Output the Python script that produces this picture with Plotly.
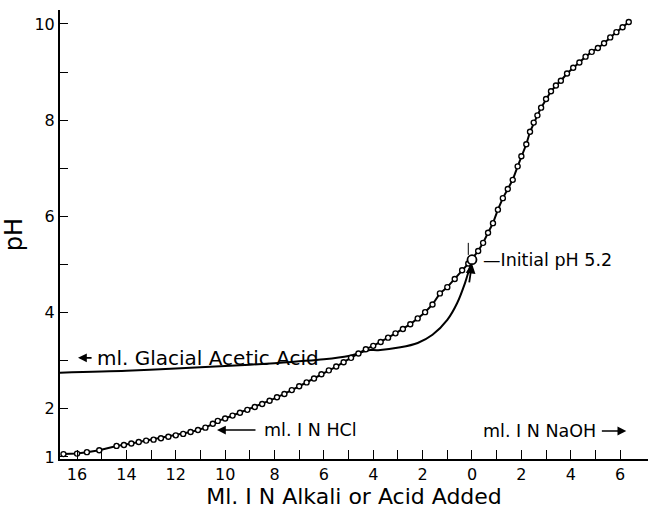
import plotly.graph_objects as go

# Titration curve: ml of 1 N HCl (negative, left) / 1 N NaOH (positive, right) vs pH
titr_ml = [-16.55, -16.0, -15.6, -15.1, -14.4, -14.1, -13.8, -13.5, -13.2, -12.9,
           -12.6, -12.3, -12.0, -11.7, -11.4, -11.1, -10.8, -10.5, -10.3, -10.0,
           -9.7, -9.4, -9.1, -8.8, -8.5, -8.2, -7.9, -7.6, -7.3, -7.0,
           -6.7, -6.4, -6.1, -5.8, -5.5, -5.2, -4.9, -4.6, -4.3, -4.0,
           -3.7, -3.4, -3.1, -2.8, -2.5, -2.2, -1.9, -1.6, -1.3, -1.0,
           -0.7, -0.4, -0.15,
           0.25, 0.45, 0.65, 0.85, 1.05, 1.25, 1.45, 1.65, 1.85, 2.0,
           2.2, 2.35, 2.5, 2.65, 2.8, 3.0, 3.2, 3.4, 3.6, 3.85,
           4.1, 4.35, 4.6, 4.85, 5.1, 5.35, 5.6, 5.85, 6.1, 6.35]
titr_ph = [1.06, 1.07, 1.10, 1.14, 1.23, 1.25, 1.28, 1.31, 1.34, 1.36,
           1.39, 1.42, 1.45, 1.48, 1.52, 1.56, 1.61, 1.69, 1.75, 1.80,
           1.86, 1.92, 1.98, 2.04, 2.10, 2.17, 2.24, 2.31, 2.39, 2.47,
           2.55, 2.63, 2.72, 2.80, 2.88, 2.97, 3.06, 3.15, 3.24, 3.31,
           3.39, 3.48, 3.57, 3.66, 3.76, 3.88, 4.01, 4.17, 4.40, 4.53,
           4.70, 4.88, 5.02,
           5.28, 5.45, 5.66, 5.86, 6.14, 6.38, 6.57, 6.76, 7.04, 7.25,
           7.50, 7.76, 7.95, 8.10, 8.26, 8.44, 8.60, 8.72, 8.82, 8.97,
           9.09, 9.20, 9.32, 9.42, 9.50, 9.60, 9.72, 9.83, 9.93, 10.04]

# Glacial acetic acid curve (ml, drawn leftwards as negative)
acetic_ml = [-16.69, -14.0, -12.0, -10.0, -8.0, -6.0, -5.0, -4.5, -4.2, -3.8,
             -2.9, -2.2, -1.6, -1.0, -0.6, -0.28, -0.08, 0.0]
acetic_ph = [2.75, 2.79, 2.84, 2.89, 2.95, 3.03, 3.10, 3.17, 3.22, 3.22,
             3.28, 3.37, 3.54, 3.85, 4.20, 4.62, 4.95, 5.06]

initial_ml = [0.0]
initial_ph = [5.1]

x_tickvals = list(range(-16, 7))
x_ticktext = [str(abs(v)) if v % 2 == 0 else "" for v in x_tickvals]
y_tickvals = list(range(1, 11))
y_ticktext = ["1", "2", "", "4", "", "6", "", "8", "", "10"]

FONT = "DejaVu Sans"
TXT = dict(family=FONT, size=17.5, color="black")


def arrow(x_head, y_head, x_tail, y_tail, width=1.8):
    return dict(x=x_head, y=y_head, ax=x_tail, ay=y_tail, axref="x", ayref="y",
                xref="x", yref="y", showarrow=True, arrowhead=2, arrowsize=1.1,
                arrowwidth=width, arrowcolor="black", text="")


fig = go.Figure()
fig.add_trace(go.Scatter(x=acetic_ml, y=acetic_ph, mode="lines",
                         line=dict(color="black", width=2, shape="spline", smoothing=0.8),
                         hoverinfo="skip"))
fig.add_trace(go.Scatter(x=titr_ml, y=titr_ph, mode="lines+markers",
                         line=dict(color="black", width=2),
                         marker=dict(symbol="circle", size=5, color="white",
                                     line=dict(color="black", width=1.4)),
                         hoverinfo="skip"))
fig.add_trace(go.Scatter(x=initial_ml, y=initial_ph, mode="markers",
                         marker=dict(symbol="circle", size=9, color="white",
                                     line=dict(color="black", width=1.8)),
                         hoverinfo="skip"))

annots = [
    arrow(0.0, 5.02, -0.12, 4.6),
    dict(x=0.36, y=5.1, xref="x", yref="y", text="—Initial pH 5.2", showarrow=False,
         xanchor="left", yanchor="middle", font=TXT),
    arrow(-15.96, 3.06, -15.35, 3.06, 1.6),
    dict(x=-15.27, y=3.06, xref="x", yref="y", text="ml. Glacial Acetic Acid", showarrow=False,
         xanchor="left", yanchor="middle", font=dict(family=FONT, size=20, color="black")),
    arrow(-10.33, 1.56, -8.71, 1.56, 1.6),
    dict(x=-8.5, y=1.56, xref="x", yref="y", text="ml. I N HCl", showarrow=False,
         xanchor="left", yanchor="middle", font=TXT),
    dict(x=0.36, y=1.54, xref="x", yref="y", text="ml. I N NaOH", showarrow=False,
         xanchor="left", yanchor="middle", font=TXT),
    arrow(6.25, 1.54, 5.2, 1.54, 1.6),
]

fig.update_layout(
    width=649, height=510,
    margin=dict(l=60, r=1, t=10, b=51),
    paper_bgcolor="white", plot_bgcolor="white",
    showlegend=False,
    annotations=annots,
    shapes=[dict(type="line", xref="x", yref="y", x0=-0.15, x1=-0.15, y0=5.2, y1=5.45,
                 line=dict(color="black", width=1))],
    xaxis=dict(range=[-16.69, 7.13], tickvals=x_tickvals, ticktext=x_ticktext,
               ticks="inside", ticklen=9, tickwidth=1.3, tickcolor="black",
               showline=True, linecolor="black", linewidth=2, showgrid=False, zeroline=False,
               tickfont=dict(family=FONT, size=16, color="black"),
               title=dict(text="Ml. I N Alkali or Acid Added", standoff=2,
                          font=dict(family=FONT, size=22, color="black"))),
    yaxis=dict(range=[0.958, 10.29], tickvals=y_tickvals, ticktext=y_ticktext,
               ticks="inside", ticklen=8, tickwidth=1.3, tickcolor="black",
               showline=True, linecolor="black", linewidth=2, showgrid=False, zeroline=False,
               tickfont=dict(family=FONT, size=16, color="black"),
               title=dict(text="pH", standoff=8,
                          font=dict(family=FONT, size=24, color="black"))),
)

fig.write_html("out.html")
